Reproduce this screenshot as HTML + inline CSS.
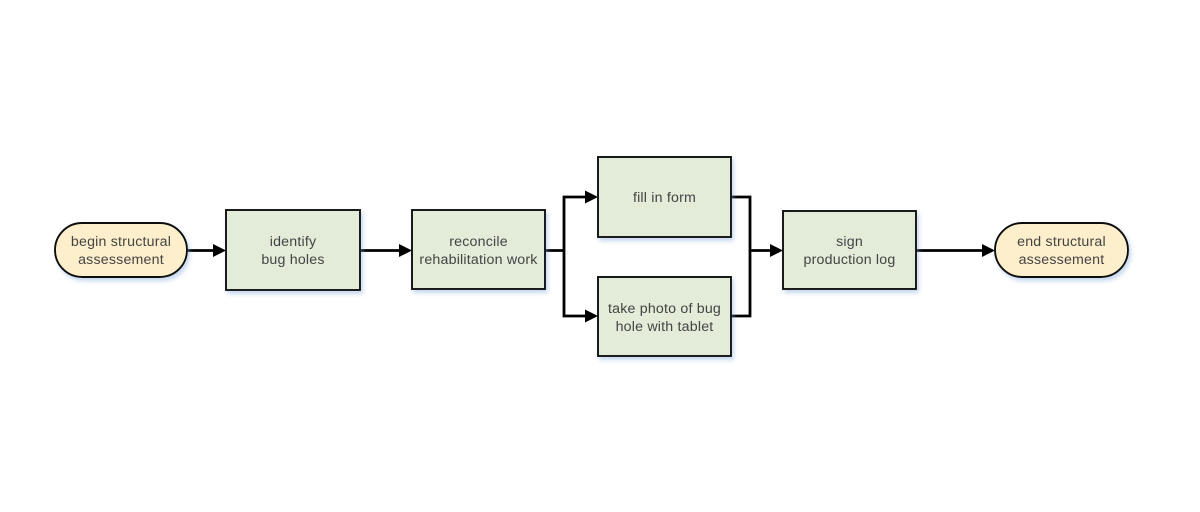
<!DOCTYPE html>
<html>
<head>
<meta charset="utf-8">
<style>
html,body{margin:0;padding:0;background:#fff;}
body{width:1200px;height:512px;overflow:hidden;}
svg{display:block;}
text{font-family:"Liberation Sans",Arial,sans-serif;font-size:14.2px;fill:#444;letter-spacing:0.2px;}
</style>
</head>
<body>
<svg width="1200" height="512" viewBox="0 0 1200 512" xmlns="http://www.w3.org/2000/svg">
<defs>
<filter id="sh" x="-20%" y="-20%" width="140%" height="150%">
<feGaussianBlur in="SourceAlpha" stdDeviation="2"/>
<feOffset dx="2" dy="3" result="b"/>
<feFlood flood-color="#7fa6d8" flood-opacity="0.45"/>
<feComposite in2="b" operator="in"/>
<feMerge><feMergeNode/><feMergeNode in="SourceGraphic"/></feMerge>
</filter>
</defs>
<rect width="1200" height="512" fill="#fff"/>

<!-- connectors -->
<g stroke="#000" stroke-width="2.8" fill="none">
<line x1="187" y1="250.5" x2="214" y2="250.5"/>
<line x1="360" y1="250.5" x2="400" y2="250.5"/>
<polyline points="545,250.5 564,250.5"/>
<polyline points="586,197 564,197 564,316 586,316"/>
<polyline points="731,197 750,197 750,316 731,316"/>
<line x1="750" y1="250.5" x2="771" y2="250.5"/>
<line x1="916" y1="250.5" x2="983" y2="250.5"/>
</g>
<g fill="#000">
<polygon points="213,244 226,250.5 213,257"/>
<polygon points="399,244 412,250.5 399,257"/>
<polygon points="585,190.5 598,197 585,203.5"/>
<polygon points="585,309.5 598,316 585,322.5"/>
<polygon points="770,244 783,250.5 770,257"/>
<polygon points="982,244 995,250.5 982,257"/>
</g>

<!-- shapes -->
<g filter="url(#sh)" stroke="#111" stroke-width="1.9">
<rect x="55" y="223" width="132" height="54" rx="27" ry="27" fill="#fdefcb"/>
<rect x="226" y="210" width="134" height="80" fill="#e2ecd8"/>
<rect x="412" y="210" width="133" height="79" fill="#e2ecd8"/>
<rect x="598" y="157" width="133" height="80" fill="#e2ecd8"/>
<rect x="598" y="277" width="133" height="79" fill="#e2ecd8"/>
<rect x="783" y="211" width="133" height="78" fill="#e2ecd8"/>
<rect x="995" y="223" width="133" height="54" rx="27" ry="27" fill="#fdefcb"/>
</g>

<!-- labels -->
<g text-anchor="middle">
<text x="121" y="246">begin structural</text>
<text x="121" y="264">assessement</text>
<text x="293" y="246">identify</text>
<text x="293" y="264">bug holes</text>
<text x="478.5" y="246">reconcile</text>
<text x="478.5" y="264">rehabilitation work</text>
<text x="664.5" y="202">fill in form</text>
<text x="664.5" y="313">take photo of bug</text>
<text x="664.5" y="331">hole with tablet</text>
<text x="849.5" y="246">sign</text>
<text x="849.5" y="264">production log</text>
<text x="1061.5" y="246">end structural</text>
<text x="1061.5" y="264">assessement</text>
</g>
</svg>
</body>
</html>
